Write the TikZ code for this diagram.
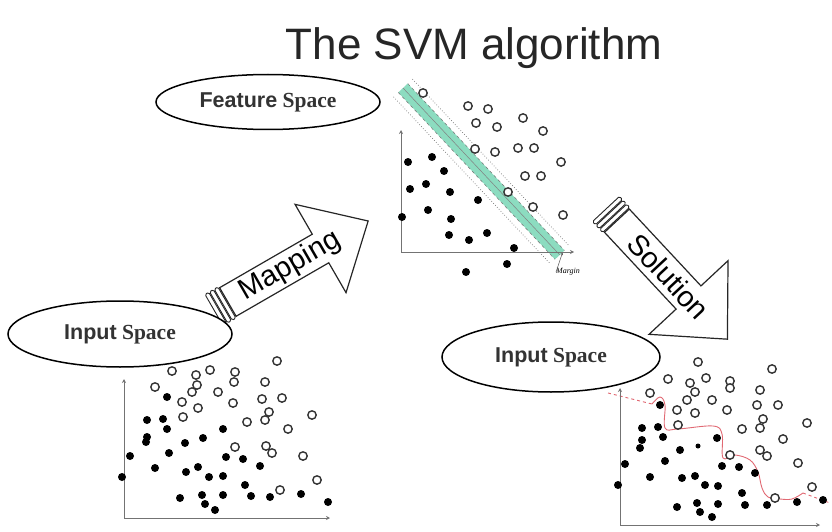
\documentclass[tikz,border=0pt]{standalone}
\usepackage{fontspec}
\setmainfont{Liberation Serif}
\setsansfont{Liberation Sans}
\usetikzlibrary{arrows.meta,positioning,shapes.geometric}

\definecolor{band}{RGB}{140,220,192}
\definecolor{bound}{RGB}{225,105,115}

\begin{document}
\begin{tikzpicture}[x=1pt, y=-1pt,
  space/.style={ellipse, draw, line width=1.5pt, fill=white, inner sep=0pt,
    minimum width=224pt, text=black!80, font=\fontsize{21.5}{25}\selectfont},
  dot/.style={fill=black},
  ring/.style={draw=black!80, line width=1.4pt, fill=white},
  axis/.style={draw=black!55, line width=1pt,
    {Stealth[length=4pt,width=4pt]}-{Stealth[length=4pt,width=4pt]}},
  block/.style={draw=black!85, line width=1.2pt, fill=white, line join=miter},
  stripe/.style={draw=black!85, line width=0.9pt, rounded corners=1.5pt},
  blocktext/.style={font=\sffamily\fontsize{29}{32}\selectfont, inner sep=0pt},
  boundary/.style={draw=bound, line width=0.9pt}]

\useasboundingbox (0,0) rectangle (832,532);

% title
\node[font=\sffamily\fontsize{44}{50}\selectfont, text=black!85, inner sep=0pt]
  (title) at (474,48) {The SVM algorithm};

% feature space: margin band
\begin{scope}[shift={(403,88)}, rotate=-46.8]
  \fill[band] (0,-6.5) rectangle (229,6.5);
  \draw[black!50, line width=0.5pt] (0,0) -- (229,0);
  \draw[black!55, dashed, line width=0.5pt] (0,-6.5) -- (229,-6.5) (0,6.5) -- (229,6.5);
  \draw[black!55, dotted, line width=0.7pt] (0,-13) -- (229,-13) (0,13) -- (229,13);
  \coordinate (bandend) at (229,-4);
\end{scope}
\node[font=\itshape\fontsize{8}{9}\selectfont, anchor=west, inner sep=0pt]
  (margin) at (556,272) {Margin};
\draw[black!70, line width=0.5pt, -{Stealth[length=3pt]}] (margin.west) -- (bandend);

% feature space: points
\draw[axis] (401,130) -- (401,252) -- (574,252);
\foreach \p in {(408,162),(432,157),(444,171),(410,189),(426,184),(450,192),
  (478,200),(402,217),(428,210),(451,219),(449,235),(469,240),(487,233),
  (514,248),(507,264),(466,272)}
  \fill[dot] \p circle (4pt);
\foreach \p in {(423,93),(468,106),(488,109),(476,123),(497,127),(523,118),(543,131),
  (475,149),(495,152),(518,148),(534,148),(561,162),(525,176),(541,176),
  (508,192),(533,207),(563,215)}
  \draw[ring] \p circle (4.2pt);

% input space (left)
\draw[axis] (124,379) -- (124,518) -- (330,518);
\foreach \p in {(167,397),(147,420),(163,419),(167,429),(147,437),(146,442),
  (130,456),(169,453),(185,443),(203,438),(223,429),(122,477),(155,468),
  (186,472),(198,467),(209,477),(223,476),(226,457),(243,459),(260,466),
  (245,485),(180,498),(202,495),(205,504),(215,510),(223,495),(251,496),
  (270,497),(301,494),(328,502)}
  \fill[dot] \p circle (4pt);
\foreach \p in {(277,361),(172,371),(196,375),(210,370),(235,372),(155,387),
  (197,385),(192,392),(218,392),(234,382),(265,382),(182,402),(198,408),
  (233,403),(262,399),(282,398),(269,412),(183,417),(247,422),(265,420),
  (288,429),(312,415),(235,447),(266,446),(272,453),(303,456),(317,480),
  (280,490)}
  \draw[ring] \p circle (4.2pt);

% input space (right)
\draw[boundary, dashed] (608,393) -- (652,404);
\draw[boundary] plot[smooth, tension=0.6] coordinates {(652,404) (660,397)
  (665,405) (665,428) (678,429) (713,426) (722,434) (723,458) (735,455)
  (750,460) (758,472) (762,488) (768,497) (780,499) (792,499) (803,493)};
\draw[boundary, dashed] (803,493) -- (830,503);
\draw[axis] (620,388) -- (620,525) -- (820,525);
\foreach \p in {(660,405),(642,428),(658,427),(663,437),(642,440),(640,448),
  (680,450),(717,438),(625,464),(665,461),(650,477),(682,478),(695,476),
  (705,485),(718,486),(722,466),(739,467),(755,473),(618,485),(742,493),
  (677,507),(697,503),(700,512),(712,517),(718,504),(745,505),(767,505),
  (797,502),(823,500)}
  \fill[dot] \p circle (4pt);
\fill[dot] (698,446) circle (2.5pt);
\foreach \p in {(698,362),(772,369),(668,379),(690,383),(706,378),(730,381),
  (730,388),(760,390),(695,392),(650,393),(687,400),(712,400),(757,405),
  (778,405),(677,410),(695,413),(727,410),(763,419),(678,425),(742,429),
  (760,428),(807,423),(783,439),(730,455),(760,450),(767,456),(798,463),
  (775,498),(812,487)}
  \draw[ring] \p circle (4.2pt);

% mapping arrow
\begin{scope}[shift={(214,310)}, rotate=30]
  \draw[block] (16,-16.5) -- (123,-16.5) -- (123,-51) -- (178,0) -- (123,51)
    -- (123,16.5) -- (16,16.5) -- cycle;
  \foreach \s in {0,5.3,10.6}
    \draw[stripe] (\s,-18) rectangle ++(4.3,36);
  \node[blocktext, rotate=30] (mapping) at (88,0) {Mapping};
\end{scope}

% solution arrow
\begin{scope}[shift={(606,209)}, rotate=-47]
  \draw[block] (16,-17) -- (121,-17) -- (121,-54) -- (178,0) -- (121,54)
    -- (121,17) -- (16,17) -- cycle;
  \foreach \s in {0,5.3,10.6}
    \draw[stripe] (\s,-18.5) rectangle ++(4.3,37);
  \node[blocktext, rotate=-47] (solution) at (92,0) {Solution};
\end{scope}

% labels
\node[space, minimum height=55pt] (feature) at (268,102)
  {\textsf{\textbf{Feature}} \textbf{Space}};
\node[space, minimum height=66pt] (inleft) at (120,334)
  {\textsf{\textbf{Input}} \textbf{Space}};
\node[space, minimum width=218pt, minimum height=70pt] (inright) at (551,357)
  {\textsf{\textbf{Input}} \textbf{Space}};
\end{tikzpicture}
\end{document}
